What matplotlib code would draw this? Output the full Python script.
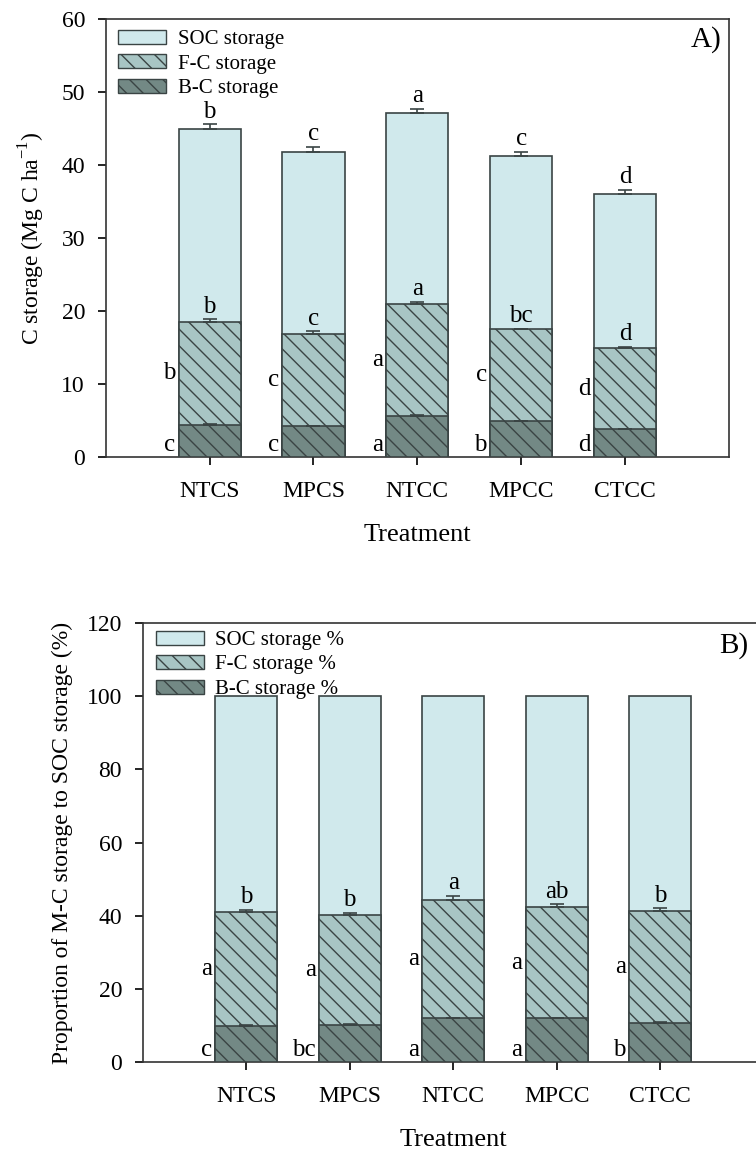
import numpy as np
import matplotlib
matplotlib.use('Agg')
import matplotlib.pyplot as plt
from matplotlib.patches import Patch

plt.rcParams['font.family'] = ['Liberation Serif', 'DejaVu Serif']
plt.rcParams['hatch.linewidth'] = 1.0
plt.rcParams['hatch.color'] = '#2f3a3a'

# ---------------------------
# Data
# ---------------------------
treatments = ["NTCS", "MPCS", "NTCC", "MPCC", "CTCC"]

# Panel A: C storage (Mg C ha-1)
soc_a = [45.0, 41.8, 47.1, 41.3, 36.1]
soc_a_err = [0.6, 0.7, 0.6, 0.5, 0.5]
fc_a = [18.5, 16.9, 20.9, 17.5, 14.9]
fc_a_err = [0.4, 0.3, 0.4, 0.1, 0.2]
bc_a = [4.4, 4.2, 5.6, 4.9, 3.8]
bc_a_err = [0.1, 0.1, 0.1, 0.1, 0.1]
soc_a_letters = ["b", "c", "a", "c", "d"]
fc_top_a_letters = ["b", "c", "a", "bc", "d"]
fc_side_a_letters = ["b", "c", "a", "c", "d"]
bc_side_a_letters = ["c", "c", "a", "b", "d"]

# Panel B: proportion of M-C storage to SOC storage (%)
soc_b = [100, 100, 100, 100, 100]
fc_b = [41.1, 40.3, 44.3, 42.5, 41.3]
fc_b_err = [0.5, 0.5, 1.2, 0.7, 0.8]
bc_b = [9.9, 10.2, 11.9, 11.9, 10.7]
bc_b_err = [0.2, 0.2, 0.1, 0.2, 0.3]
fc_top_b_letters = ["b", "b", "a", "ab", "b"]
fc_side_b_letters = ["a", "a", "a", "a", "a"]
bc_side_b_letters = ["c", "bc", "a", "a", "b"]

SOC_COLOR = '#d0e9ec'
FC_COLOR = '#a8c5c4'
BC_COLOR = '#738985'
EDGE = '#3a4444'
W = 0.6
FS = 17      # tick labels
LFS = 18     # significance letters


def draw_panel(ax, soc, fc, bc, fc_err, bc_err, soc_err=None):
    x = np.arange(len(treatments))
    ax.bar(x, soc, W, color=SOC_COLOR, edgecolor=EDGE, linewidth=1.2, zorder=2)
    ax.bar(x, fc, W, color=FC_COLOR, edgecolor=EDGE, linewidth=1.2, hatch='\\\\', zorder=3)
    ax.bar(x, bc, W, color=BC_COLOR, edgecolor=EDGE, linewidth=1.2, hatch='\\\\', zorder=4)
    zeros = [0] * len(x)
    if soc_err is not None:
        ax.errorbar(x, soc, yerr=[zeros, soc_err], fmt='none', ecolor=EDGE,
                    elinewidth=1.2, capsize=5, capthick=1.2, zorder=5)
    ax.errorbar(x, fc, yerr=[zeros, fc_err], fmt='none', ecolor=EDGE,
                elinewidth=1.2, capsize=5, capthick=1.2, zorder=5)
    ax.errorbar(x, bc, yerr=[zeros, bc_err], fmt='none', ecolor=EDGE,
                elinewidth=1.2, capsize=5, capthick=1.2, zorder=5)
    ax.set_xlim(-1, 5)
    ax.set_xticks(x)
    ax.set_xticklabels(treatments)
    ax.tick_params(axis='x', length=6, width=1.2, pad=11, labelsize=FS, top=False)
    ax.tick_params(axis='y', length=6, width=1.2, pad=9, labelsize=FS, right=False)
    for s in ax.spines.values():
        s.set_linewidth(1.2)
        s.set_color('#333333')
    ax.set_xlabel("Treatment", fontsize=19, labelpad=16)
    return x


def side_letters(ax, x, fc, bc, fc_letters, bc_letters, bottom_y):
    for i in range(len(x)):
        xl = x[i] - W / 2 - 0.03
        ax.text(xl, (fc[i] + bc[i]) / 2, fc_letters[i], ha='right', va='center', fontsize=LFS)
        ax.text(xl, bottom_y, bc_letters[i], ha='right', va='bottom', fontsize=LFS)


def add_legend(ax, labels, anchor):
    handles = [Patch(facecolor=SOC_COLOR, edgecolor=EDGE, label=labels[0]),
               Patch(facecolor=FC_COLOR, edgecolor=EDGE, hatch='\\\\', label=labels[1]),
               Patch(facecolor=BC_COLOR, edgecolor=EDGE, hatch='\\\\', label=labels[2])]
    ax.legend(handles=handles, loc='upper left', frameon=False, fontsize=15,
              handlelength=2.3, handleheight=0.65, handletextpad=0.55, labelspacing=0.25,
              borderaxespad=0.2, bbox_to_anchor=anchor)


fig = plt.figure(figsize=(7.56, 11.57), dpi=100)

# ---------------------------
# Panel A
# ---------------------------
axA = fig.add_axes([0.140, 0.605, 0.824, 0.3785])
x = draw_panel(axA, soc_a, fc_a, bc_a, fc_a_err, bc_a_err, soc_a_err)
axA.set_ylim(0, 60)
axA.set_yticks(range(0, 61, 10))
axA.set_ylabel("C storage (Mg C ha$^{\\mathregular{-1}}$)", fontsize=17, labelpad=10)
for i in range(len(x)):
    axA.text(x[i], soc_a[i] + soc_a_err[i] + 0.2, soc_a_letters[i], ha='center', va='bottom', fontsize=LFS)
    axA.text(x[i], fc_a[i] + fc_a_err[i] + 0.2, fc_top_a_letters[i], ha='center', va='bottom', fontsize=LFS)
side_letters(axA, x, fc_a, bc_a, fc_side_a_letters, bc_side_a_letters, 0.2)
axA.text(0.989, 0.985, "A)", transform=axA.transAxes, ha='right', va='top', fontsize=21)
add_legend(axA, ['SOC storage', 'F-C storage', 'B-C storage'], (0.0, 1.004))

# ---------------------------
# Panel B
# ---------------------------
axB = fig.add_axes([0.189, 0.0821, 0.821, 0.3794])
x = draw_panel(axB, soc_b, fc_b, bc_b, fc_b_err, bc_b_err)
axB.set_ylim(0, 120)
axB.set_yticks(range(0, 121, 20))
axB.set_ylabel("Proportion of M-C storage to SOC storage (%)", fontsize=17, labelpad=10)
for i in range(len(x)):
    axB.text(x[i], fc_b[i] + fc_b_err[i] + 0.4, fc_top_b_letters[i], ha='center', va='bottom', fontsize=LFS)
side_letters(axB, x, fc_b, bc_b, fc_side_b_letters, bc_side_b_letters, 0.4)
axB.text(0.975, 0.98, "B)", transform=axB.transAxes, ha='right', va='top', fontsize=21)
add_legend(axB, ['SOC storage %', 'F-C storage %', 'B-C storage %'], (0.001, 1.011))

fig.savefig("out.png", dpi=100)
plt.close(fig)
